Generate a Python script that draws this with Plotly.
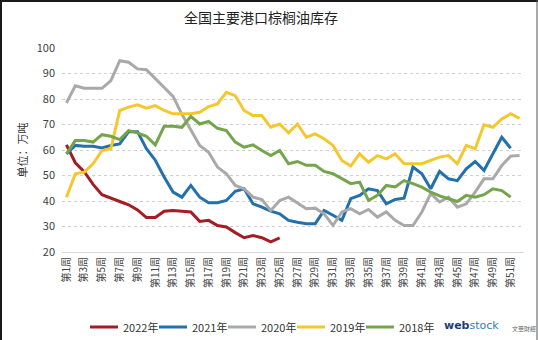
import plotly.graph_objects as go

# Week categories and y-axis ticks
weeks = [f"第{i}周" for i in range(1, 53)]
tick_weeks = weeks[::2]
y_ticks = list(range(20, 101, 10))

# Palm oil inventory at major ports, 10k tonnes
inv_2022 = [62, 55, 51.5, 46.5, 42.5, 41, 39.8, 38.5, 36.5, 33.5,
            33.5, 36, 36.3, 36, 35.7, 32, 32.4, 30.4, 29.8, 27.6,
            25.6, 26.5, 25.6, 24, 25.5]
inv_2021 = [58.5, 61.8, 61.5, 61.5, 60.8, 61.8, 62.4, 67.2, 67.2, 60.5,
            56, 49.4, 43.5, 41.5, 46.1, 41.5, 39.3, 39.3, 40.2, 43.8,
            44.8, 38.9, 37.6, 36, 35, 32.4, 31.7, 31.1, 31.1, 36.3,
            34.4, 32.4, 40.9, 42.2, 44.8, 44.1, 38.9, 40.6, 41.1, 53.3,
            50.7, 44.8, 51.6, 48.7, 48, 52.6, 55.5, 52, 58.5, 65, 60.7]
inv_2020 = [78.5, 85.2, 84.2, 84.2, 84.2, 87.2, 95, 94.4, 91.8, 91.5,
            87.9, 84.6, 81, 74, 67.6, 61.8, 59.1, 53.3, 50.7, 46.1,
            44.8, 41.5, 40.6, 36.3, 40.2, 41.5, 39.2, 37, 37.2, 35,
            30.4, 35.7, 37, 35, 36.7, 33.7, 35.7, 32.4, 30.4, 30.4,
            35.7, 42.9, 39.6, 41.5, 37.6, 38.9, 43.5, 48.7, 48.7, 53.9,
            57.6, 57.8]
inv_2019 = [41.5, 50.7, 51.3, 54.6, 59.8, 60.5, 75.5, 76.8, 77.7, 76.4,
            77.4, 75.5, 74.2, 74.2, 74.2, 74.8, 77, 78.1, 82.6, 81.3,
            75.5, 73.5, 73.5, 68.9, 70.2, 66.7, 70.2, 65, 66.3, 64.4,
            61.8, 55.9, 53.7, 58.5, 55.2, 57.8, 56.5, 58.5, 54.6, 54.6,
            54.6, 55.9, 57.2, 57.8, 54.6, 61.8, 60.5, 69.9, 68.9, 72.2,
            74.2, 72.4]
inv_2018 = [58.5, 63.7, 63.7, 63.1, 66, 65.4, 64.1, 67.6, 66.7, 65.4,
            62, 69.3, 69.3, 68.9, 73.2, 70.2, 71.2, 68.5, 67.6, 63.1,
            61.1, 62, 59.8, 57.8, 59.8, 54.6, 55.5, 54, 54, 51.6,
            50.7, 48.7, 46.8, 47.4, 40.2, 42.2, 46.1, 45.5, 48, 46.8,
            45.4, 43.5, 42, 40.9, 39.8, 42.2, 41.5, 42.5, 44.8, 44.1, 41.5]

series = [
    ("2022年", inv_2022, "#A31D24"),
    ("2021年", inv_2021, "#2270AC"),
    ("2020年", inv_2020, "#A9A9A9"),
    ("2019年", inv_2019, "#F5C72E"),
    ("2018年", inv_2018, "#74A54B"),
]

W, H = 538, 340
ML, MR, MT, MB = 62, 14, 48, 88
PW, PH = W - ML - MR, H - MT - MB


def px_x(px):
    return (px - ML) / PW


def px_y(py):
    return (H - MB - py) / PH


FONT = "Noto Sans CJK SC, Noto Sans, sans-serif"

fig = go.Figure()
for name, vals, color in series:
    fig.add_trace(go.Scatter(
        x=weeks[:len(vals)], y=vals, name=name, mode="lines",
        line=dict(color=color, width=3), showlegend=False,
    ))

fig.update_layout(
    width=W, height=H,
    margin=dict(l=ML, r=MR, t=MT, b=MB),
    paper_bgcolor="white", plot_bgcolor="white",
    font=dict(family=FONT, color="#404040"),
    title=dict(
        text="全国主要港口棕榈油库存",
        x=261 / W, xanchor="center", y=1 - 18 / H, yanchor="middle",
        font=dict(size=14, color="#222222", family=FONT),
    ),
    showlegend=False,
    xaxis=dict(
        type="category", categoryorder="array", categoryarray=weeks,
        range=[-0.5, len(weeks) - 0.5],
        tickmode="array", tickvals=tick_weeks, ticktext=tick_weeks,
        tickangle=-90, tickfont=dict(size=10, color="#444444", family=FONT),
        showgrid=False, showline=True, linecolor="#D9D9D9", linewidth=1,
        ticks="", zeroline=False,
    ),
    yaxis=dict(
        range=[20, 100], tickvals=y_ticks,
        tickfont=dict(size=11, color="#404040", family=FONT),
        showgrid=True, gridcolor="#D0D0D0", griddash="dot", gridwidth=1,
        zeroline=False, showline=False, ticks="",
        ticklabelstandoff=6,
        title=dict(text="单位：万吨", standoff=6,
                   font=dict(size=11, color="#333333", family=FONT)),
    ),
)

# Legend row: line sample followed by the series name
LEG_X0, LEG_PITCH, LEG_LINE, LEG_Y = 90, 69, 28, 327
for i, (name, _, color) in enumerate(series):
    lx = LEG_X0 + i * LEG_PITCH
    fig.add_shape(type="line", xref="paper", yref="paper",
                  x0=px_x(lx), x1=px_x(lx + LEG_LINE),
                  y0=px_y(LEG_Y), y1=px_y(LEG_Y),
                  line=dict(color=color, width=3))
    fig.add_annotation(xref="paper", yref="paper",
                       x=px_x(lx + LEG_LINE + 3), y=px_y(LEG_Y),
                       xanchor="left", yanchor="middle", showarrow=False,
                       text=name,
                       font=dict(size=11, color="#333333", family=FONT))

# Watermark logo text
fig.add_annotation(
    xref="paper", yref="paper", x=px_x(442), y=px_y(325),
    xanchor="left", yanchor="middle", showarrow=False,
    text="<b><span style='color:#1F3C78'>web</span></b>"
         "<span style='color:#2C7FC2'>stock</span>",
    font=dict(size=11, family="DejaVu Sans, sans-serif"),
)
fig.add_annotation(
    xref="paper", yref="paper", x=px_x(510), y=px_y(328),
    xanchor="left", yanchor="middle", showarrow=False,
    text="文華財經", font=dict(size=6, color="#666666", family=FONT),
)

# Frame around the image
fig.add_shape(type="line", xref="paper", yref="paper",
              x0=px_x(1), x1=px_x(1), y0=px_y(0), y1=px_y(H),
              line=dict(color="#1A1A1A", width=2))
fig.add_shape(type="line", xref="paper", yref="paper",
              x0=px_x(0), x1=px_x(W), y0=px_y(1), y1=px_y(1),
              line=dict(color="#1A1A1A", width=2))
fig.add_shape(type="line", xref="paper", yref="paper",
              x0=px_x(W - 1), x1=px_x(W - 1), y0=px_y(0), y1=px_y(H),
              line=dict(color="#555555", width=1))

fig.write_html("out.html")
